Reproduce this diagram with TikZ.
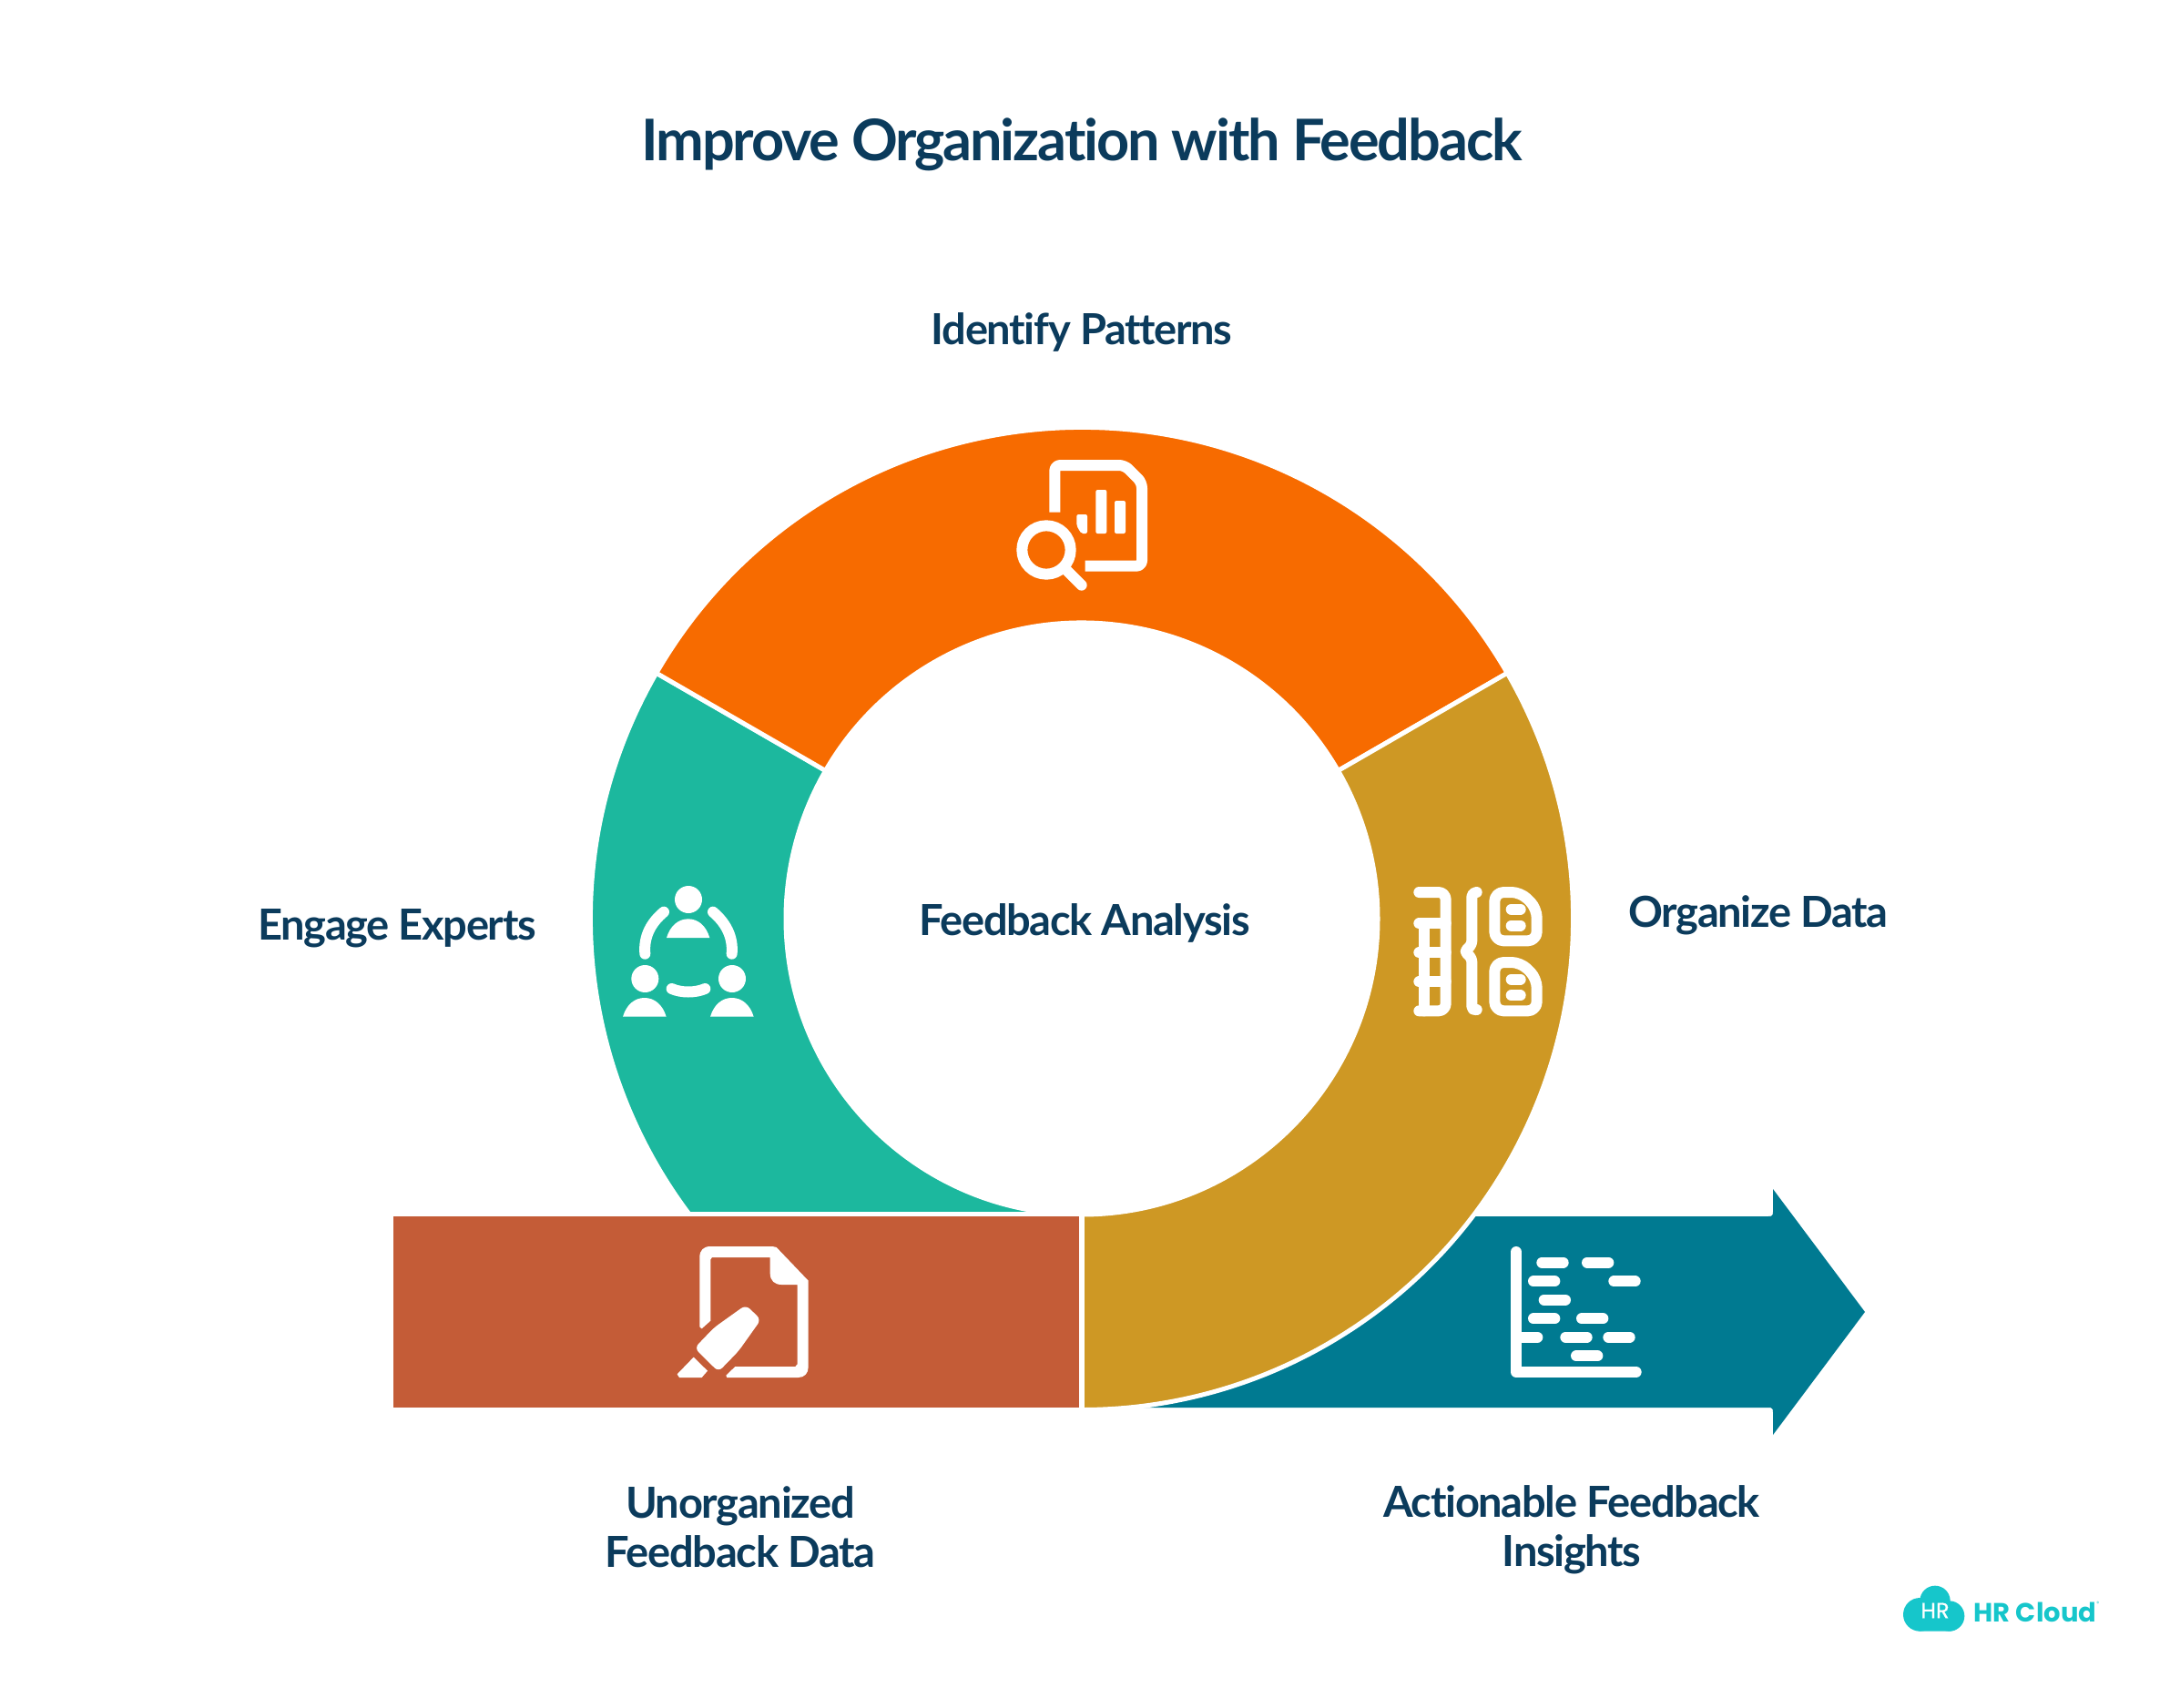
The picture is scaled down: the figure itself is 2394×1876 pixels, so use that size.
\documentclass[tikz,border=0pt]{standalone}
\usepackage{fontspec}
\setmainfont{Lato}[Ligatures=NoCommon]
\newfontfamily\logofont{Poppins}
\newfontfamily\logomid{Poppins}[FakeBold=0.5]
\newfontfamily\titlefont{Lato}[Ligatures=NoCommon,LetterSpace=-3.4]
\newfontfamily\labelfont{Lato}[Ligatures=NoCommon,LetterSpace=-2.8]
\definecolor{navy}{HTML}{0B3B5C}
\definecolor{cOrange}{HTML}{F76B00}
\definecolor{cTeal}{HTML}{1CB89E}
\definecolor{cGold}{HTML}{CE9824}
\definecolor{cRust}{HTML}{C45C37}
\definecolor{cArrow}{HTML}{007A91}
\definecolor{cLogo}{HTML}{16C6CB}
\newcommand{\ringsector}[3]{%
  \filldraw[fill=#1,draw=white,line width=5pt,line join=miter]
    ([shift={(1188,1009)}]#2:539.5) arc[start angle=#2,end angle=#3,radius=539.5]
    -- ([shift={(1188,1009)}]#3:325) arc[start angle=#3,end angle=#2,radius=325] -- cycle;}
\tikzset{
  label/.style={text=navy,font=\labelfont\bfseries\fontsize{47}{54}\selectfont,align=center,inner sep=0pt},
  titletext/.style={text=navy,font=\titlefont\bfseries\fontsize{63}{70}\selectfont,inner sep=0pt},
  iconline/.style={draw=white,line width=12pt,line cap=round,line join=round},
  iconfill/.style={fill=white,draw=none}
}
\begin{document}
\begin{tikzpicture}[x=1pt,y=1pt,yscale=-1]
\useasboundingbox (0,0) rectangle (2394,1876);
\fill[white] (0,0) rectangle (2394,1876);
% arrow
\fill[cArrow] (1191,1336) -- (1942,1336) .. controls (1946,1336) and (1947,1335) .. (1947,1331)
  -- (1947,1306) -- (2048,1441) -- (1947,1576) -- (1947,1551) .. controls (1947,1547) and (1946,1546) .. (1942,1546)
  -- (1191,1546) -- cycle;
% teal
\begin{scope}
  \clip (0,0) rectangle (2394,1330);
  \ringsector{cTeal}{210}{90}
\end{scope}
% orange
\ringsector{cOrange}{-150}{-30}
% gold
\begin{scope}
  \clip (1191,0) rectangle (2394,1876);
  \ringsector{cGold}{-30}{90}
\end{scope}
% rust
\fill[cRust] (432,1336) rectangle (1185,1546);
% texts
\node[titletext] (title) at (1188,159) {Improve Organization with Feedback};
\node[label] (patterns) at (1188,365) {Identify Patterns};
\node[label] (analysis) at (1191,1014) {Feedback Analysis};
\node[label] (organize) at (1931,1005) {Organize Data};
\node[label] (engage) at (436,1020) {Engage Experts};
\node[label] (unorg) at (813,1677) {Unorganized\\Feedback Data};
\node[label] (action) at (1726,1680) {Actionable Feedback\\Insights};
% icon: report + magnifier
\begin{scope}[shift={(1050,460)},scale=1/3]
  \draw[iconline,line cap=butt,rounded corners=6pt] (325,308) -- (325,153) -- (555,153) -- (612,210) -- (612,485) -- (425,485);
  \fill[white,rounded corners=2pt] (397,315) -- (432,315) -- (432,378) -- (412,378) -- (397,352) -- cycle;
  \fill[white,rounded corners=2pt] (460,234) rectangle (496,378);
  \fill[white,rounded corners=2pt] (522,270) rectangle (558,378);
  \draw[draw=white,line width=12pt] (297,432) circle[radius=80];
  \draw[iconline] (365,500) -- (413,548);
\end{scope}
% icon: people
\begin{scope}[shift={(660,950)},scale=1/3]
  \fill[white] (288,114) circle[radius=45] (145,375) circle[radius=45] (432,375) circle[radius=45];
  \fill[white] (216,240) .. controls (228,200) and (255,178) .. (287,178) .. controls (320,178) and (346,200) .. (358,240) -- cycle;
  \fill[white] (72,500) .. controls (84,460) and (111,438) .. (143,438) .. controls (176,438) and (203,460) .. (215,500) -- cycle;
  \fill[white] (360,500) .. controls (372,460) and (399,438) .. (431,438) .. controls (464,438) and (491,460) .. (503,500) -- cycle;
  \draw[iconline] (145,293) .. controls (140,235) and (165,190) .. (207,155);
  \draw[iconline] (431,293) .. controls (436,235) and (410,190) .. (369,155);
  \draw[iconline] (233,408) .. controls (265,422) and (310,422) .. (343,408);
\end{scope}
% icon: brackets + docs
\begin{scope}[shift={(1520,950)},scale=1/3]
  \draw[iconline,rounded corners=8pt] (115,90) -- (203,90) -- (203,481) -- (115,481);
  \draw[iconline] (115,193) -- (203,193) (115,289) -- (203,289) (115,385) -- (203,385) (131,193) -- (131,481);
  \draw[iconline,rounded corners=5pt] (305,90) -- (289,90) -- (289,265) -- (262,285) -- (289,305) -- (289,481) -- (305,477);
  \draw[iconline,rounded corners=10pt] (364,90) -- (450,90) -- (503,143) -- (503,250) -- (364,250) -- cycle;
  \draw[iconline,rounded corners=10pt] (364,321) -- (450,321) -- (503,374) -- (503,481) -- (364,481) -- cycle;
  \draw[iconline] (419,146) -- (449,146) (419,200) -- (449,200) (419,377) -- (449,377) (419,430) -- (449,430);
\end{scope}
% icon: document + marker
\begin{scope}[shift={(720,1350)},scale=1/3]
  \fill[white] (145,322) -- (152,328) -- (181,302) -- (181,100) -- (186,93) -- (377,93) -- (377,145)
    .. controls (377,170) and (392,183) .. (415,183) -- (467,183) -- (467,445) -- (460,453) -- (262,453) -- (232,482) -- (235,489)
    -- (470,489) .. controls (490,489) and (503,475) .. (503,455) -- (503,170) -- (398,60) -- (385,57) -- (180,57)
    .. controls (158,57) and (145,70) .. (145,92) -- cycle;
  \fill[white,rounded corners=6pt] (297,250) -- (347,298) -- (273,402) -- (207,470) -- (128,392) -- (192,325) -- cycle;
  \fill[white] (125,422) -- (171,467) -- (152,489) -- (78,489) -- (71,478) -- cycle;
\end{scope}
% icon: chart
\begin{scope}[shift={(1640,1350)},scale=1/3]
  \draw[iconline] (75,75) -- (75,471) -- (470,471);
  \draw[iconline] (160,110) -- (230,110) (309,110) -- (379,110)
    (132,172) -- (202,172) (397,172) -- (467,172)
    (167,233) -- (237,233)
    (132,295) -- (202,295) (291,295) -- (361,295)
    (75,356) -- (145,356) (238,356) -- (308,356) (379,356) -- (449,356)
    (273,418) -- (343,418);
\end{scope}
% logo
\begin{scope}[shift={(2070,1730)},scale=1/3]
  \fill[cLogo] (115,130) circle[radius=55] (165,85) circle[radius=50] (212,135) circle[radius=50];
  \fill[cLogo,rounded corners=12pt] (80,110) rectangle (250,185);
  \fill[cLogo] (100,100) rectangle (220,150);
\end{scope}
\node[text=white,font=\logomid\fontsize{24}{24}\selectfont,inner sep=0pt] (logoHR) at (2125,1769) {HR};
\node[text=cLogo,font=\logofont\bfseries\fontsize{29}{29}\selectfont,inner sep=0pt] (logoname) at (2235,1771) {HR Cloud};
\node[text=cLogo,font=\logofont\fontsize{6}{6}\selectfont,inner sep=0pt] (logoreg) at (2304,1761) {®};
\end{tikzpicture}
\end{document}
